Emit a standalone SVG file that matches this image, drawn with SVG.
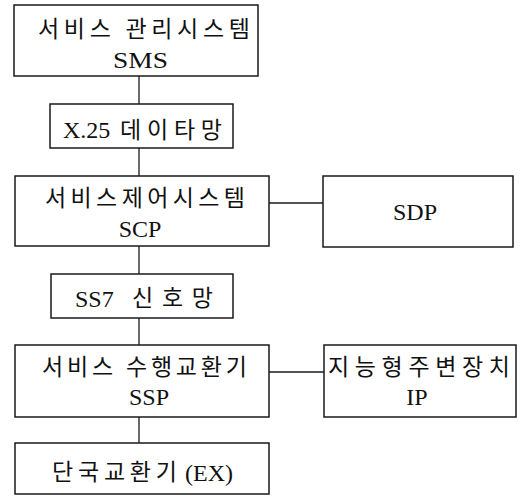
<svg xmlns="http://www.w3.org/2000/svg" width="524" height="496" viewBox="0 0 524 496">
<style>
.box{fill:#fff;stroke:#1a1a1a;stroke-width:1.5}
.ln{stroke:#1a1a1a;stroke-width:1.3;fill:none}
text{fill:#111}
.ko{font-family:"Noto Sans CJK KR",sans-serif;font-size:23px}
.en{font-family:"Liberation Serif","DejaVu Serif",serif;font-size:24px}
.c{text-anchor:middle}
</style>
<rect width="524" height="496" fill="#fff"/>
<g id="connectors">
<line class="ln" x1="139" y1="76" x2="139" y2="104"/>
<line class="ln" x1="139" y1="148" x2="139" y2="176"/>
<line class="ln" x1="139" y1="246" x2="139" y2="274"/>
<line class="ln" x1="139" y1="318" x2="139" y2="345"/>
<line class="ln" x1="139" y1="417" x2="139" y2="443"/>
<line class="ln" x1="269" y1="203" x2="323" y2="203"/>
<line class="ln" x1="269" y1="372" x2="324" y2="372"/>
</g>
<g id="sms">
<rect class="box" x="14" y="5" width="244" height="71"/>
<text class="ko" x="38" y="37" textLength="212" lengthAdjust="spacing">서비스 관리시스템</text>
<text class="en" x="113" y="68" textLength="55" lengthAdjust="spacingAndGlyphs">SMS</text>
</g>
<g id="x25">
<rect class="box" x="50" y="104" width="183" height="44"/>
<text class="en" x="63" y="138">X.25</text>
<text class="ko" x="120" y="138" textLength="102" lengthAdjust="spacing">데이타망</text>
</g>
<g id="scp">
<rect class="box" x="15" y="176" width="254" height="70"/>
<text class="ko" x="45" y="206" textLength="200" lengthAdjust="spacing">서비스제어시스템</text>
<text class="en c" x="140" y="237">SCP</text>
</g>
<g id="sdp">
<rect class="box" x="323" y="176" width="190" height="71"/>
<text class="en c" x="415" y="220">SDP</text>
</g>
<g id="ss7">
<rect class="box" x="51" y="274" width="182" height="44"/>
<text class="en" x="75" y="307">SS7</text>
<text class="ko" x="132" y="306" textLength="81" lengthAdjust="spacing">신호망</text>
</g>
<g id="ssp">
<rect class="box" x="15" y="345" width="254" height="72"/>
<text class="ko" x="42" y="375" textLength="205" lengthAdjust="spacing">서비스 수행교환기</text>
<text class="en c" x="149" y="405">SSP</text>
</g>
<g id="ip">
<rect class="box" x="324" y="345" width="192" height="72"/>
<text class="ko" x="328" y="375" textLength="182" lengthAdjust="spacing">지능형주변장치</text>
<text class="en c" x="417" y="405">IP</text>
</g>
<g id="ex">
<rect class="box" x="15" y="443" width="254" height="51"/>
<text class="ko" x="52" y="480" textLength="125" lengthAdjust="spacing">단국교환기</text>
<text class="en" x="185" y="481">(EX)</text>
</g>
</svg>
